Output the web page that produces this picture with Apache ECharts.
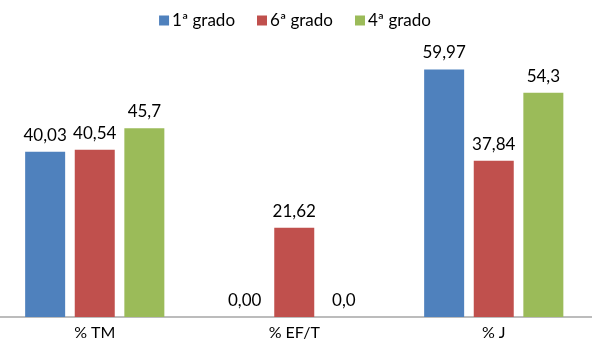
<!DOCTYPE html>
<html>
<head>
<meta charset="UTF-8">
<title>grados</title>
<script src="https://cdn.jsdelivr.net/npm/echarts@6/dist/echarts.min.js"></script>
</head>
<body style="margin:0;background:#fff;overflow:hidden;">
<div id="container" style="width:600px;height:347px;margin-left:-5px;"></div>
<script type="text/javascript">
var categories = ['% TM', '% EF/T', '% J'];
var seriesNames = ['1ª grado', '6ª grado', '4ª grado'];
var grado1 = [40.03, 0, 59.97];
var grado6 = [40.54, 21.62, 37.84];
var grado4 = [45.7, 0, 54.3];
// labels as printed in the original
var labels1 = ['40,03', '0,00', '59,97'];
var labels6 = ['40,54', '21,62', '37,84'];
var labels4 = ['45,7', '0,0', '54,3'];

var colors = ['#4F81BD', '#C0504D', '#9BBB59'];
var font = 'Lato, sans-serif';

var myChart = echarts.init(document.getElementById('container'));

function makeSeries(name, values, labels, color) {
    return {
        name: name,
        type: 'bar',
        data: values,
        barWidth: 40,
        barGap: '24%',
        itemStyle: { color: color },
        label: {
            show: true,
            position: 'top',
            distance: 8,
            color: '#000',
            fontSize: 17,
            fontFamily: font,
            formatter: function (p) { return labels[p.dataIndex]; }
        }
    };
}

var option = {
    animation: false,
    color: colors,
    legend: {
        top: 7,
        left: 'center',
        itemWidth: 10,
        itemHeight: 10,
        itemGap: 22,
        icon: 'rect',
        textStyle: { fontSize: 17, fontFamily: font, color: '#000', padding: [0, 0, 0, -2] },
        data: seriesNames
    },
    grid: { left: 0, right: 1.5, top: 28, bottom: 30 },
    xAxis: {
        type: 'category',
        data: categories,
        axisTick: { show: false },
        axisLine: { lineStyle: { color: '#A6A6A6', width: 1.5 } },
        axisLabel: { fontSize: 16, fontFamily: font, color: '#000', margin: 8 }
    },
    yAxis: {
        type: 'value',
        min: 0,
        max: 70,
        show: false
    },
    series: [
        makeSeries(seriesNames[0], grado1, labels1, colors[0]),
        makeSeries(seriesNames[1], grado6, labels6, colors[1]),
        makeSeries(seriesNames[2], grado4, labels4, colors[2])
    ]
};

myChart.setOption(option);
</script>
</body>
</html>
